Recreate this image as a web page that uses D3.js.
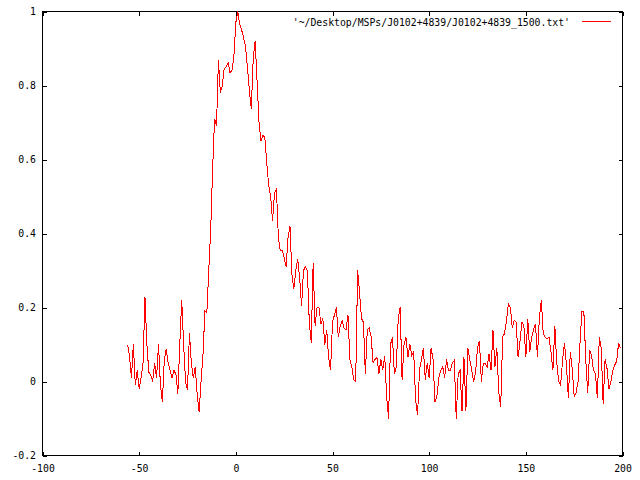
<!DOCTYPE html>
<html>
<head>
<meta charset="utf-8">
<script src="https://cdn.jsdelivr.net/npm/d3@7"></script>
<style>
  body { margin: 0; background: #fff; }
  text { font-family: "DejaVu Sans Mono", "Liberation Mono", monospace; font-size: 9.8px; fill: #000; }
</style>
</head>
<body>
<div id="vis1"></div>
<script>

// data: pulse profile, one value per bin starting at FIRST_BIN
const FIRST_BIN = -56;
const PROFILE = [
  0.10, 0.07, 0.01, 0.10, -0.01, 0.03, -0.02, 0.01, 0.05, 0.228,
  0.10, 0.025, 0.017, 0.0, 0.05, 0.01, 0.10, -0.01, -0.056, 0.06,
  0.087, 0.05, 0.03, 0.01, 0.03, 0.02, -0.033, 0.10, 0.22, 0.10,
  0.0, -0.024, 0.13, 0.05, 0.01, 0.04, -0.033, -0.083, 0.0, 0.07,
  0.19, 0.185, 0.30, 0.41, 0.575, 0.71, 0.69, 0.87, 0.78, 0.80,
  0.846, 0.85, 0.862, 0.835, 0.84, 0.88, 0.97, 1.0, 0.965, 0.95,
  0.93, 0.905, 0.85, 0.786, 0.737, 0.873, 0.92, 0.81, 0.70, 0.65,
  0.665, 0.66, 0.59, 0.53, 0.50, 0.435, 0.51, 0.52, 0.39, 0.354,
  0.355, 0.335, 0.31, 0.39, 0.42, 0.29, 0.25, 0.30, 0.33, 0.28,
  0.205, 0.30, 0.31, 0.30, 0.16, 0.105, 0.32, 0.15, 0.20, 0.20,
  0.155, 0.17, 0.10, 0.14, 0.065, 0.03, 0.16, 0.18, 0.20, 0.12,
  0.15, 0.165, 0.143, 0.14, 0.18, 0.06, 0.04, 0.005, 0.0, 0.30,
  0.24, 0.17, 0.16, 0.02, 0.14, 0.145, 0.12, 0.05, 0.06, 0.065,
  0.02, 0.06, 0.03, 0.07, -0.04, -0.10, 0.10, 0.12, 0.02, 0.04,
  0.17, 0.20, 0.003, 0.10, 0.12, 0.065, 0.10, 0.07, 0.08, -0.05,
  -0.09, 0.03, 0.06, 0.09, 0.005, 0.05, 0.01, 0.09, 0.06, -0.055,
  -0.04, 0.01, 0.03, 0.04, 0.01, 0.06, 0.03, 0.03, 0.05, 0.057,
  -0.10, 0.02, 0.03, -0.08, 0.065, -0.08, 0.09, 0.06, 0.03, 0.0,
  0.025, 0.09, 0.11, 0.0, 0.05, 0.048, 0.04, 0.075, 0.03, 0.14,
  0.04, 0.09, -0.03, -0.07, 0.12, 0.13, 0.165, 0.21, 0.20, 0.146,
  0.165, 0.16, 0.065, 0.11, 0.16, 0.15, 0.065, 0.17, 0.08, 0.12,
  0.14, 0.155, 0.065, 0.173, 0.22, 0.13, 0.12, 0.115, 0.12, 0.08,
  0.03, 0.15, 0.05, 0.0, -0.01, 0.057, 0.105, 0.045, -0.045, 0.08,
  0.035, -0.04, -0.03, 0.0, 0.10, 0.19, 0.19, 0.06, -0.03, 0.085,
  0.07, 0.03, 0.02, -0.045, 0.12, 0.09, -0.06, 0.06, 0.035, -0.02,
  0.0, 0.03, 0.045, 0.055, 0.105, 0.09
];

const X_TICKS = [-100, -50, 0, 50, 100, 150, 200];
const Y_TICKS = [-0.2, 0, 0.2, 0.4, 0.6, 0.8, 1];
const LEGEND_LABEL = "'~/Desktop/MSPs/J0102+4839/J0102+4839_1500.txt'";

// frame
const FRAME_HEIGHT = 480;
const FRAME_WIDTH = 640;
const MARGINS = {left: 42.5, right: 17.5, top: 11.5, bottom: 24.5};
const TICK = 4;

const FRAME1 = d3.select("#vis1")
                  .append("svg")
                    .attr("height", FRAME_HEIGHT)
                    .attr("width", FRAME_WIDTH);

const X_SCALE = d3.scaleLinear()
                  .domain([-100, 200])
                  .range([MARGINS.left, FRAME_WIDTH - MARGINS.right]);
const Y_SCALE = d3.scaleLinear()
                  .domain([-0.2, 1])
                  .range([FRAME_HEIGHT - MARGINS.bottom, MARGINS.top]);

const fmt = (d) => String(d);

// bottom + left axes with labels, top + right with ticks only
FRAME1.append("g")
      .attr("transform", "translate(0," + Y_SCALE(-0.2) + ")")
      .call(d3.axisBottom(X_SCALE).tickValues(X_TICKS).tickFormat(fmt)
              .tickSize(-TICK).tickPadding(9.5));

FRAME1.append("g")
      .attr("transform", "translate(0," + Y_SCALE(1) + ")")
      .call(d3.axisTop(X_SCALE).tickValues(X_TICKS).tickFormat("")
              .tickSize(-TICK));

FRAME1.append("g")
      .attr("transform", "translate(" + X_SCALE(-100) + ",0)")
      .call(d3.axisLeft(Y_SCALE).tickValues(Y_TICKS).tickFormat(fmt)
              .tickSize(-TICK).tickPadding(6.5));

FRAME1.append("g")
      .attr("transform", "translate(" + X_SCALE(200) + ",0)")
      .call(d3.axisRight(Y_SCALE).tickValues(Y_TICKS).tickFormat("")
              .tickSize(-TICK));

FRAME1.selectAll(".domain").remove();
FRAME1.selectAll(".tick line").attr("stroke", "#000").attr("shape-rendering", "crispEdges");
FRAME1.selectAll(".tick text")
      .attr("font-family", null)
      .attr("font-size", null)
      .attr("fill", "#000");

// plot border
FRAME1.append("rect")
      .attr("x", X_SCALE(-100))
      .attr("y", Y_SCALE(1))
      .attr("width", X_SCALE(200) - X_SCALE(-100))
      .attr("height", Y_SCALE(-0.2) - Y_SCALE(1))
      .attr("fill", "none")
      .attr("stroke", "#000")
      .attr("shape-rendering", "crispEdges");

// the profile
const line = d3.line()
               .x((d, i) => X_SCALE(FIRST_BIN + i))
               .y((d) => Y_SCALE(d));

FRAME1.append("path")
      .datum(PROFILE)
      .attr("d", line)
      .attr("fill", "none")
      .attr("stroke", "#ff0000")
      .attr("stroke-width", 1)
      .attr("shape-rendering", "crispEdges");

// key
FRAME1.append("text")
      .attr("x", 570)
      .attr("y", 25.5)
      .attr("text-anchor", "end")
      .text(LEGEND_LABEL);

FRAME1.append("line")
      .attr("x1", 582)
      .attr("x2", 611)
      .attr("y1", 21.5)
      .attr("y2", 21.5)
      .attr("stroke", "#ff0000")
      .attr("shape-rendering", "crispEdges");

</script>
</body>
</html>
